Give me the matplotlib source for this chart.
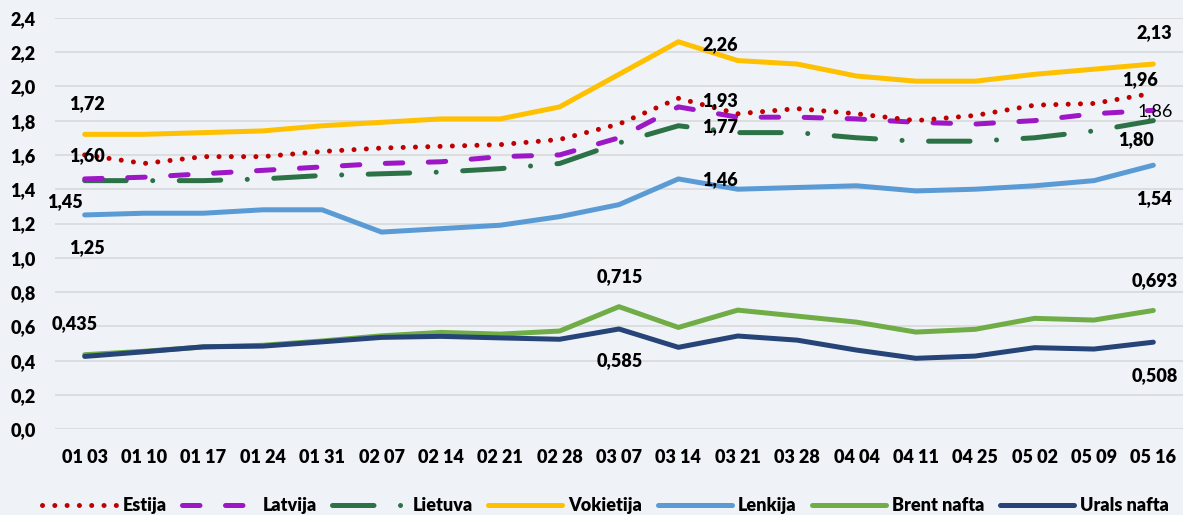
import matplotlib
matplotlib.use("Agg")
from matplotlib import pyplot as plt

dates = ["01 03", "01 10", "01 17", "01 24", "01 31", "02 07", "02 14", "02 21",
         "02 28", "03 07", "03 14", "03 21", "03 28", "04 04", "04 11", "04 25",
         "05 02", "05 09", "05 16"]

estija = [1.60, 1.55, 1.59, 1.59, 1.62, 1.64, 1.65, 1.66, 1.69, 1.78, 1.93,
          1.84, 1.87, 1.84, 1.80, 1.83, 1.89, 1.90, 1.96]
latvija = [1.46, 1.47, 1.49, 1.51, 1.53, 1.55, 1.56, 1.59, 1.60, 1.70, 1.88,
           1.82, 1.82, 1.81, 1.79, 1.78, 1.80, 1.84, 1.86]
lietuva = [1.45, 1.45, 1.45, 1.46, 1.48, 1.49, 1.50, 1.52, 1.55, 1.67, 1.77,
           1.73, 1.73, 1.70, 1.68, 1.68, 1.70, 1.74, 1.80]
vokietija = [1.72, 1.72, 1.73, 1.74, 1.77, 1.79, 1.81, 1.81, 1.88, 2.07, 2.26,
             2.15, 2.13, 2.06, 2.03, 2.03, 2.07, 2.10, 2.13]
lenkija = [1.25, 1.26, 1.26, 1.28, 1.28, 1.15, 1.17, 1.19, 1.24, 1.31, 1.46,
           1.40, 1.41, 1.42, 1.39, 1.40, 1.42, 1.45, 1.54]
brent = [0.435, 0.455, 0.48, 0.49, 0.515, 0.545, 0.565, 0.555, 0.573, 0.715,
         0.594, 0.695, 0.66, 0.625, 0.567, 0.583, 0.647, 0.637, 0.693]
urals = [0.425, 0.452, 0.481, 0.485, 0.51, 0.536, 0.542, 0.533, 0.525, 0.585,
         0.478, 0.544, 0.52, 0.462, 0.414, 0.427, 0.476, 0.468, 0.508]

BG = "#EFF3F7"
LW = 3.6
FS = 13
W = "heavy"

plt.rcParams["font.family"] = ["Lato", "DejaVu Sans"]
plt.rcParams["font.weight"] = W

fig = plt.figure(figsize=(11.83, 5.15), dpi=100, facecolor=BG)
ax = fig.add_axes([0.0465, 0.1664, 0.9535, 0.7992], facecolor=BG)

x = list(range(len(dates)))

series = [
    ("Estija", estija, "#C00000", (0, (0.01, 2.45))),
    ("Latvija", latvija, "#9E17C6", (0, (3.5, 5.1))),
    ("Lietuva", lietuva, "#2D7246", (0, (8.3, 5.3, 0.01, 5.3))),
    ("Vokietija", vokietija, "#FFC000", "-"),
    ("Lenkija", lenkija, "#5B9BD5", "-"),
    ("Brent nafta", brent, "#70AD47", "-"),
    ("Urals nafta", urals, "#264478", "-"),
]

# solid lines first, patterned ones on top
order = [3, 4, 5, 6, 2, 1, 0]
lines = {}
for i in order:
    name, vals, color, ls = series[i]
    (ln,) = ax.plot(x, vals, color=color, linestyle=ls, linewidth=LW,
                    dash_capstyle="round", solid_capstyle="round",
                    solid_joinstyle="round", label=name, zorder=3)
    lines[name] = ln

ax.set_xlim(-0.5, len(dates) - 0.5)
ax.set_ylim(0, 2.4)
ax.set_yticks([i * 0.2 for i in range(13)])
ax.set_yticklabels([f"{i * 0.2:.1f}".replace(".", ",") for i in range(13)])
ax.set_xticks(x)
ax.set_xticklabels(dates)
ax.tick_params(axis="both", length=0, labelsize=FS)
ax.tick_params(axis="y", pad=14)
ax.tick_params(axis="x", pad=14)
for s in ax.spines.values():
    s.set_visible(False)
ax.grid(axis="y", color="#D9D9D9", linewidth=1.2, zorder=0)
ax.set_axisbelow(True)


def fmt(v, nd):
    return f"{v:.{nd}f}".replace(".", ",")


def label(idx, vals, nd, dx, dy, weight=W):
    ax.annotate(fmt(vals[idx], nd), xy=(idx, vals[idx]), xytext=(dx, dy),
                textcoords="offset pixels", ha="center", va="center",
                fontsize=FS, fontweight=weight, zorder=5)


label(0, vokietija, 2, 2, 31)
label(0, estija, 2, 2, -1)
label(0, lietuva, 2, -20, -21)
label(0, lenkija, 2, 2, -33)
label(0, brent, 3, -10, 31)
label(10, vokietija, 2, 42, -3)
label(10, estija, 2, 42, -2)
label(10, lietuva, 2, 42, -1)
label(10, lenkija, 2, 42, -1)
label(9, brent, 3, 1, 30)
label(9, urals, 3, 1, -32)
label(18, vokietija, 2, 1, 31)
label(18, estija, 2, -13, 14)
label(18, latvija, 2, 2, -1, weight="normal")
label(18, lietuva, 2, -17, -19)
label(18, lenkija, 2, 1, -33)
label(18, brent, 3, 1, 30)
label(18, urals, 3, 1, -33)

handles = [lines[s[0]] for s in series]
fig.legend(handles, [s[0] for s in series], loc="lower center", ncol=7,
           bbox_to_anchor=(0.512, -0.03), frameon=False, fontsize=FS,
           handlelength=4.1, handletextpad=0.35, columnspacing=0.85)

fig.savefig("out.png", dpi=100, facecolor=BG)
